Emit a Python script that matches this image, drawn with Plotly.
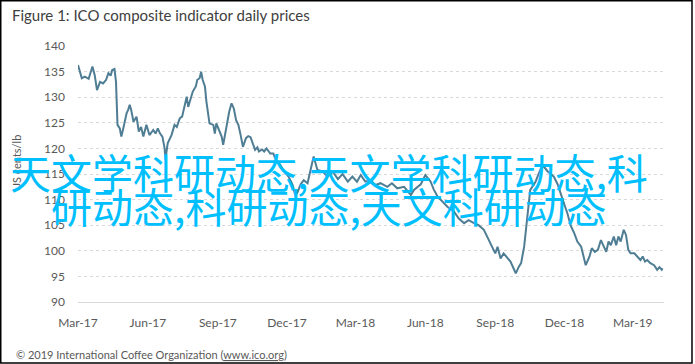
import plotly.graph_objects as go

# ---- data ----
dates = [
    "2017-03-01", "2017-03-03", "2017-03-06", "2017-03-10", "2017-03-15", "2017-03-20", "2017-03-23",
    "2017-03-26", "2017-03-30", "2017-04-03", "2017-04-07", "2017-04-10", "2017-04-13", "2017-04-15",
    "2017-04-18", "2017-04-20", "2017-04-21", "2017-04-22", "2017-04-25", "2017-04-27", "2017-04-30",
    "2017-05-04", "2017-05-06", "2017-05-08", "2017-05-10", "2017-05-13", "2017-05-17", "2017-05-20",
    "2017-05-23", "2017-05-26", "2017-05-30", "2017-06-03", "2017-06-08", "2017-06-11", "2017-06-14",
    "2017-06-17", "2017-06-20", "2017-06-23", "2017-06-24", "2017-06-27", "2017-07-02", "2017-07-06",
    "2017-07-09", "2017-07-13", "2017-07-16", "2017-07-19", "2017-07-22", "2017-07-24", "2017-07-27",
    "2017-07-30", "2017-08-03", "2017-08-05", "2017-08-08", "2017-08-10", "2017-08-12", "2017-08-15",
    "2017-08-17", "2017-08-19", "2017-08-21", "2017-08-26", "2017-08-28", "2017-08-30", "2017-09-03",
    "2017-09-06", "2017-09-08", "2017-09-10", "2017-09-12", "2017-09-16", "2017-09-19", "2017-09-22",
    "2017-09-25", "2017-09-28", "2017-10-01", "2017-10-04", "2017-10-08", "2017-10-11", "2017-10-14",
    "2017-10-17", "2017-10-20", "2017-10-23", "2017-10-25", "2017-10-29", "2017-11-01", "2017-11-04",
    "2017-11-09", "2017-11-13", "2017-11-17", "2017-11-22", "2017-11-27", "2017-12-03", "2017-12-08",
    "2017-12-12", "2017-12-15", "2017-12-19", "2017-12-23", "2017-12-28", "2018-01-01", "2018-01-05",
    "2018-01-10", "2018-01-17", "2018-01-23", "2018-01-30", "2018-02-06", "2018-02-12", "2018-02-19",
    "2018-02-25", "2018-03-03", "2018-03-08", "2018-03-14", "2018-03-21", "2018-03-27", "2018-04-03",
    "2018-04-12", "2018-04-18", "2018-04-25", "2018-05-04", "2018-05-13", "2018-05-17", "2018-05-26",
    "2018-06-01", "2018-06-08", "2018-06-12", "2018-06-17", "2018-06-23", "2018-06-30", "2018-07-09",
    "2018-07-15", "2018-07-22", "2018-07-28", "2018-08-04", "2018-08-10", "2018-08-17", "2018-08-24",
    "2018-08-28", "2018-09-01", "2018-09-04", "2018-09-08", "2018-09-12", "2018-09-17", "2018-09-21",
    "2018-09-25", "2018-09-28", "2018-10-02", "2018-10-05", "2018-10-09", "2018-10-12", "2018-10-15",
    "2018-10-17", "2018-10-24", "2018-11-02", "2018-11-09", "2018-11-17", "2018-11-22", "2018-11-27",
    "2018-12-01", "2018-12-05", "2018-12-09", "2018-12-14", "2018-12-18", "2018-12-23", "2018-12-27",
    "2018-12-29", "2019-01-03", "2019-01-06", "2019-01-10", "2019-01-14", "2019-01-18", "2019-01-22",
    "2019-01-25", "2019-01-28", "2019-01-31", "2019-02-04", "2019-02-07", "2019-02-10", "2019-02-13",
    "2019-02-17", "2019-02-20", "2019-02-23", "2019-02-26", "2019-03-03", "2019-03-07", "2019-03-11",
    "2019-03-14", "2019-03-17", "2019-03-20", "2019-03-24", "2019-03-29", "2019-04-02", "2019-04-05",
    "2019-04-08", "2019-04-09",
]
prices = [
    136.3, 135.3, 133.7, 134.0, 133.6, 136.0, 134.3,
    131.4, 133.0, 132.7, 133.4, 134.7, 134.2, 135.3,
    135.5, 133.0, 128.5, 124.6, 123.9, 122.3, 124.2,
    126.9, 127.5, 128.5, 127.5, 125.2, 126.2, 123.3,
    124.2, 122.3, 124.6, 122.6, 123.6, 122.9, 123.9,
    122.9, 122.3, 120.0, 117.8, 121.0, 122.6, 124.6,
    124.2, 125.9, 126.2, 128.5, 130.1, 128.1, 129.5,
    131.1, 132.1, 133.4, 133.7, 135.0, 133.4, 132.1,
    129.1, 126.5, 124.9, 124.6, 122.9, 124.9, 123.3,
    122.3, 120.7, 122.3, 124.2, 127.2, 128.8, 127.8,
    125.5, 124.6, 122.6, 120.3, 122.0, 122.4, 122.2,
    120.7, 119.7, 120.2, 119.4, 119.8, 119.4, 120.0,
    119.0, 119.0, 117.5, 116.8, 115.5, 114.5, 113.0,
    110.8, 111.5, 113.0, 113.8, 113.2, 116.0, 118.4,
    115.8, 115.5, 114.5, 115.5, 114.0, 115.0, 113.5,
    114.5, 113.5, 114.8, 113.5, 113.8, 112.8, 113.2,
    112.5, 113.2, 112.2, 112.5, 110.9, 111.9, 113.0,
    114.8, 113.5, 112.0, 110.6, 109.6, 108.6, 107.6,
    106.3, 105.4, 106.0, 105.4, 105.0, 104.1, 102.1,
    100.8, 99.5, 100.8, 98.5, 99.5, 98.5, 97.9,
    96.6, 95.6, 96.9, 97.6, 100.8, 104.7, 108.6,
    111.9, 113.5, 116.8, 115.5, 114.5, 113.0, 111.0,
    109.0, 107.3, 105.0, 103.4, 101.8, 100.8, 98.2,
    97.2, 98.9, 100.5, 99.8, 100.2, 102.1, 100.8,
    99.8, 101.8, 101.1, 102.8, 101.1, 102.8, 101.8,
    104.1, 103.1, 100.2, 99.5, 99.5, 98.9, 98.2,
    98.9, 97.9, 98.2, 97.6, 97.2, 96.3, 96.8,
    96.3, 96.6,
]
x_tick_dates = ["2017-03-01", "2017-06-01", "2017-09-01", "2017-12-01", "2018-03-01",
                "2018-06-01", "2018-09-01", "2018-12-01", "2019-03-01"]
x_tick_labels = ["Mar-17", "Jun-17", "Sep-17", "Dec-17", "Mar-18",
                 "Jun-18", "Sep-18", "Dec-18", "Mar-19"]
y_ticks = [90, 95, 100, 105, 110, 115, 120, 125, 130, 135, 140]

title_text = "Figure 1: ICO composite indicator daily prices"
y_title = "US cents/lb"
footer_text = "© 2019 International Coffee Organization (<u>www.ico.org</u>)"
overlay_lines = ["天文学科研动态,天文学科研动态,科", "研动态,科研动态,天文科研动态"]

# ---- layout geometry (pixels) ----
W, H = 695, 364
L, R, T, B = 78, 664, 46, 302


def px(x):
    return (x - L) / (R - L)


def py(y):
    return (B - y) / (B - T)


FONT = "Lato, 'Liberation Sans', sans-serif"
GRID = "#d9d9d9"
TICK = "#595959"

fig = go.Figure()
fig.add_trace(go.Scatter(
    x=dates, y=prices, mode="lines",
    line=dict(color="#4f7d93", width=2),
    hoverinfo="skip", showlegend=False,
))

fig.update_layout(
    width=W, height=H,
    margin=dict(l=L, r=W - R, t=T, b=H - B, autoexpand=False),
    paper_bgcolor="white", plot_bgcolor="white",
    font=dict(family=FONT, color=TICK, size=12),
    showlegend=False,
)
fig.update_xaxes(
    type="date", range=["2017-03-01", "2019-04-11"],
    tickvals=x_tick_dates, ticktext=x_tick_labels,
    showgrid=False, zeroline=False,
    showline=True, linecolor=GRID, linewidth=1,
    ticks="", ticklabelstandoff=10,
    tickfont=dict(size=12, color=TICK, family=FONT),
)
fig.update_yaxes(
    range=[90, 140], tickvals=y_ticks,
    showgrid=True, gridcolor=GRID, griddash="dot", gridwidth=1,
    zeroline=False, showline=False, ticks="", ticklabelstandoff=12,
    tickfont=dict(size=12, color=TICK, family=FONT),
)

ann = []
ann.append(dict(text=title_text, x=px(10), y=py(15), xref="paper", yref="paper",
                xanchor="left", yanchor="middle", showarrow=False,
                font=dict(size=15, color="#404040", family=FONT)))
ann.append(dict(text=y_title, x=px(16), y=py(163), xref="paper", yref="paper",
                xanchor="center", yanchor="middle", showarrow=False, textangle=-90,
                font=dict(size=11, color=TICK, family=FONT)))
ann.append(dict(text=footer_text, x=px(14), y=py(354), xref="paper", yref="paper",
                xanchor="left", yanchor="middle", showarrow=False,
                font=dict(size=11, color=TICK, family=FONT)))
for line, yc in zip(overlay_lines, [171, 205]):
    ann.append(dict(text=line, x=px(329), y=py(yc), xref="paper", yref="paper",
                    xanchor="center", yanchor="middle", showarrow=False,
                    font=dict(size=41, color="#00bfff", family="Noto Sans CJK SC")))
fig.update_layout(annotations=ann)

fig.add_shape(type="rect", xref="paper", yref="paper",
              x0=px(0.75), x1=px(692), y0=py(0.75), y1=py(363),
              line=dict(color="black", width=1.5), fillcolor="rgba(0,0,0,0)")

fig.write_html("out.html", config={"displayModeBar": False},
               post_script="document.body.style.margin='0';document.body.style.overflow='hidden';")
